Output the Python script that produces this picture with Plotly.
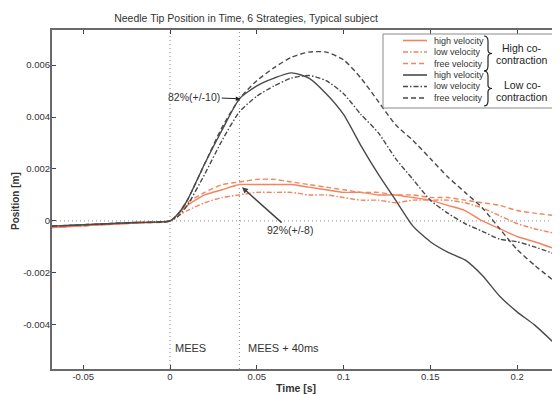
import plotly.graph_objects as go

# ---------------- data ----------------
time_s = [-0.068, -0.04, -0.02, 0.0, 0.005, 0.01, 0.02, 0.03, 0.04, 0.05, 0.06, 0.07,
          0.08, 0.09, 0.10, 0.11, 0.12, 0.13, 0.14, 0.15, 0.16, 0.17, 0.18, 0.19,
          0.20, 0.21, 0.223]

# High co-contraction (orange)
hi_cc_high_vel = [-0.00025, -0.00015, -0.00008, 0.0, 0.0003, 0.0006, 0.0010, 0.0012, 0.0014,
                  0.0014, 0.0014, 0.0014, 0.0013, 0.0012, 0.0011, 0.0011, 0.0010, 0.0010,
                  0.0009, 0.0008, 0.0006, 0.0004, 0.0000, -0.0003, -0.0006, -0.0008, -0.0011]
hi_cc_low_vel = [-0.00025, -0.00015, -0.00008, 0.0, 0.0002, 0.0004, 0.0007, 0.0009, 0.0010,
                 0.0011, 0.0011, 0.0011, 0.0010, 0.0010, 0.0009, 0.0008, 0.0008, 0.0007,
                 0.0008, 0.0008, 0.0008, 0.0007, 0.0005, 0.0002, -0.0001, -0.0003, -0.0005]
hi_cc_free_vel = [-0.00025, -0.00015, -0.00008, 0.0, 0.0003, 0.0007, 0.0011, 0.0014, 0.0015,
                  0.0016, 0.0016, 0.0015, 0.0014, 0.0013, 0.0012, 0.0011, 0.0011, 0.0010,
                  0.0010, 0.0009, 0.0009, 0.0008, 0.0007, 0.0006, 0.0004, 0.0003, 0.0002]

# Low co-contraction (black)
lo_cc_high_vel = [-0.0002, -0.00012, -0.00006, 0.0, 0.0003, 0.0008, 0.0022, 0.0035, 0.0047,
                  0.0052, 0.0055, 0.0057, 0.0055, 0.0049, 0.0041, 0.0029, 0.0018, 0.0008,
                  -0.0002, -0.0008, -0.0012, -0.0015, -0.0021, -0.0029, -0.0035, -0.0040, -0.0048]
lo_cc_low_vel = [-0.0002, -0.00012, -0.00006, 0.0, 0.0002, 0.0006, 0.0018, 0.0031, 0.0042,
                 0.0048, 0.0052, 0.0055, 0.0056, 0.0054, 0.0049, 0.0041, 0.0034, 0.0024,
                 0.0016, 0.0008, 0.0003, -0.0001, -0.0004, -0.0007, -0.0008, -0.0010, -0.0013]
lo_cc_free_vel = [-0.0002, -0.00012, -0.00006, 0.0, 0.0003, 0.0008, 0.0022, 0.0036, 0.0047,
                  0.0054, 0.0059, 0.0063, 0.0065, 0.0065, 0.0062, 0.0055, 0.0046, 0.0037,
                  0.0031, 0.0024, 0.0017, 0.0011, 0.0005, -0.0003, -0.0011, -0.0017, -0.0024]

event_times = [0.0, 0.04]
event_labels = ["MEES", "MEES + 40ms"]

x_tick_vals = [-0.05, 0.0, 0.05, 0.1, 0.15, 0.2]
x_tick_text = ["-0.05", "0", "0.05", "0.1", "0.15", "0.2"]
y_tick_vals = [-0.004, -0.002, 0.0, 0.002, 0.004, 0.006]
y_tick_text = ["-0.004", "-0.002", "0", "0.002", "0.004", "0.006"]

legend_labels = ["high velocity", "low velocity", "free velocity"]
group_labels = [["High co-", "contraction"], ["Low co-", "contraction"]]

# ---------------- style ----------------
OFF = 8                      # page body margin in the browser
W, H = 560 - OFF, 394 - OFF
L, R, T, B = 52 - OFF, 3, 30 - OFF, 25
ORANGE = "#f3845e"
DARK = "#4a4a4a"
FONT = "Liberation Sans, Arial, sans-serif"
DASHES = ["solid", "5px,2px,1.5px,2px", "5px,3px"]


def xp(px):
    """window pixel -> paper x"""
    return (px - OFF - L) / (W - L - R)


def yp(py):
    """window pixel -> paper y"""
    return (H - B - (py - OFF)) / (H - T - B)


fig = go.Figure()
series = [
    (hi_cc_high_vel, ORANGE, DASHES[0]),
    (hi_cc_low_vel, ORANGE, DASHES[1]),
    (hi_cc_free_vel, ORANGE, DASHES[2]),
    (lo_cc_free_vel, DARK, DASHES[2]),
    (lo_cc_low_vel, DARK, DASHES[1]),
    (lo_cc_high_vel, DARK, DASHES[0]),
]
for ys, col, dash in series:
    fig.add_trace(go.Scatter(x=time_s, y=ys, mode="lines",
                             line=dict(color=col, width=1.4, dash=dash, shape="spline", smoothing=0.6),
                             showlegend=False, hoverinfo="skip"))

shapes = []
# dotted reference lines
for t in event_times:
    shapes.append(dict(type="line", xref="x", yref="paper", x0=t, x1=t, y0=0, y1=1,
                       line=dict(color="#8a8a8a", width=1, dash="1px,3px"), layer="below"))
shapes.append(dict(type="line", xref="paper", yref="y", x0=0, x1=1, y0=0, y1=0,
                   line=dict(color="#8a8a8a", width=1, dash="1px,3px"), layer="below"))

# legend box
shapes.append(dict(type="rect", xref="paper", yref="paper", x0=xp(383), x1=xp(555),
                   y0=yp(108), y1=yp(34), line=dict(color="#8a8a8a", width=1),
                   fillcolor="white", layer="above"))
annotations = []
rows = [40.5, 52, 63.5, 75, 86.5, 98]
for i, py in enumerate(rows):
    col = ORANGE if i < 3 else DARK
    dash = DASHES[i % 3]
    shapes.append(dict(type="line", xref="paper", yref="paper", x0=xp(403), x1=xp(427),
                       y0=yp(py), y1=yp(py), line=dict(color=col, width=1.6, dash=dash)))
    annotations.append(dict(xref="paper", yref="paper", x=xp(432), y=yp(py), text=legend_labels[i % 3],
                            showarrow=False, xanchor="left", yanchor="middle",
                            font=dict(family=FONT, size=9, color="#333")))


def brace(x0, y0, y1, w):
    ym = (y0 + y1) / 2
    h = y1 - y0
    xm = x0 + w / 2
    pts = [
        f"M {xp(x0)},{yp(y0)}",
        f"Q {xp(xm)},{yp(y0)} {xp(xm)},{yp(y0 + 0.15 * h)}",
        f"L {xp(xm)},{yp(ym - 0.1 * h)}",
        f"Q {xp(xm)},{yp(ym)} {xp(x0 + w)},{yp(ym)}",
        f"Q {xp(xm)},{yp(ym)} {xp(xm)},{yp(ym + 0.1 * h)}",
        f"L {xp(xm)},{yp(y1 - 0.15 * h)}",
        f"Q {xp(xm)},{yp(y1)} {xp(x0)},{yp(y1)}",
    ]
    return " ".join(pts)


for (y0, y1) in [(36, 71), (71, 106)]:
    shapes.append(dict(type="path", xref="paper", yref="paper", path=brace(484, y0, y1, 8),
                       line=dict(color="#222", width=1.2)))
for labs, (py1, py2) in zip(group_labels, [(48, 60), (85, 97)]):
    for lab, py in zip(labs, (py1, py2)):
        annotations.append(dict(xref="paper", yref="paper", x=xp(522), y=yp(py), text=lab,
                                showarrow=False, xanchor="center", yanchor="middle",
                                font=dict(family=FONT, size=10.5, color="#222")))

# event labels
for t, lab, off in zip(event_times, event_labels, [0.002, 0.004]):
    annotations.append(dict(x=t + off, y=-0.0049, xref="x", yref="y", text=lab, showarrow=False,
                            xanchor="left", yanchor="middle",
                            font=dict(family=FONT, size=11, color="#333")))

# percentage annotations
annotations.append(dict(x=0.0405, y=0.0047, xref="x", yref="y", text="82%(+/-10)",
                        showarrow=True, arrowhead=2, arrowsize=0.9, arrowwidth=1, arrowcolor="#222",
                        ax=-46, ay=-2, font=dict(family=FONT, size=10.5, color="#333")))
annotations.append(dict(x=0.0415, y=0.0013, xref="x", yref="y", text="92%(+/-8)",
                        showarrow=True, arrowhead=2, arrowsize=0.8, arrowwidth=1.5, arrowcolor="#444",
                        ax=48, ay=43, font=dict(family=FONT, size=10.5, color="#333")))

# axis titles
annotations.append(dict(xref="paper", yref="paper", x=xp(296), y=yp(388), text="<b>Time [s]</b>",
                        showarrow=False, xanchor="center", yanchor="middle",
                        font=dict(family=FONT, size=10.5, color="#333")))
annotations.append(dict(xref="paper", yref="paper", x=xp(15), y=yp(201), text="<b>Position [m]</b>",
                        showarrow=False, textangle=-90, xanchor="center", yanchor="middle",
                        font=dict(family=FONT, size=10, color="#333")))

axis_common = dict(showline=True, linecolor="#6a6a6a", linewidth=2, mirror="ticks",
                   ticks="inside", ticklen=4, tickcolor="#444", tickwidth=1,
                   showgrid=False, zeroline=False, automargin=False,
                   tickfont=dict(family=FONT, size=9.5, color="#333"))

fig.update_layout(
    width=W, height=H,
    margin=dict(l=L, r=R, t=T, b=B, autoexpand=False),
    paper_bgcolor="white", plot_bgcolor="white",
    title=dict(text="Needle Tip Position in Time, 6 Strategies, Typical subject",
               x=xp(246), xanchor="center", xref="paper",
               y=1 - (18 - OFF) / H, yanchor="middle", yref="container", automargin=False,
               font=dict(family=FONT, size=10.5, color="#333")),
    xaxis=dict(range=[-0.068, 0.223], tickvals=x_tick_vals, ticktext=x_tick_text,
               ticklabelstandoff=-2, **axis_common),
    yaxis=dict(range=[-0.0057, 0.00735], tickvals=y_tick_vals, ticktext=y_tick_text,
               ticklabelstandoff=-2, **axis_common),
    shapes=shapes, annotations=annotations, showlegend=False,
)
fig.write_html("out.html")
